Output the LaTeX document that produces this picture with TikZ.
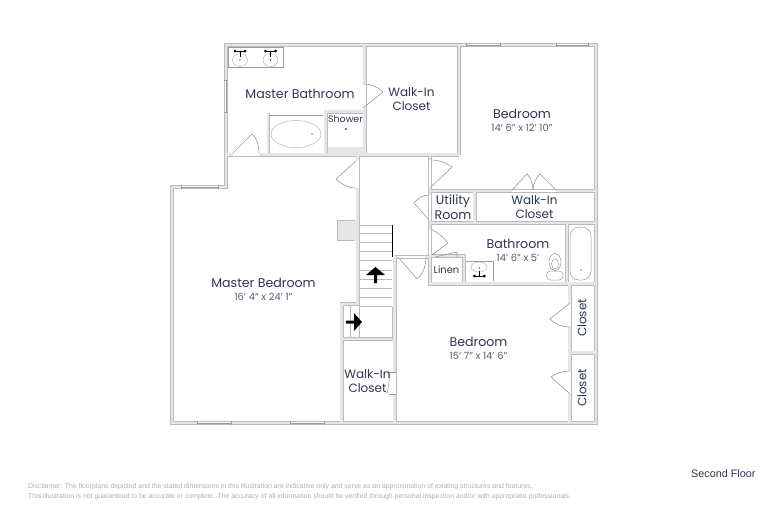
\documentclass[tikz,border=0pt]{standalone}
\usepackage{fontspec}
\setmainfont{Poppins}
\newfontfamily\discfont{Liberation Sans}
\definecolor{ink}{HTML}{2C3650}
\definecolor{inklight}{HTML}{555D73}
\definecolor{wallout}{HTML}{BBBBBD}
\definecolor{wallin}{HTML}{E6E6E8}
\definecolor{fix}{HTML}{9A9A9A}
\definecolor{fixlight}{HTML}{B6B8B4}
\definecolor{disc}{HTML}{B0B0B4}
\newcommand\wallset[1]{%
 \draw[#1] (226,45)--(596,45)--(596,423)--(172,423)--(172,187)--(226,187)--cycle;
 \draw[#1] (226,154.5)--(459,154.5);
 \draw[#1] (364.5,45)--(364.5,154.5);
 \draw[#1] (459,45)--(459,155);
 \draw[#1] (430,155)--(430,283.5)--(596,283.5);
 \draw[#1] (430,191)--(596,191);
 \draw[#1] (430,223)--(596,223);
 \draw[#1] (474.5,191)--(474.5,223);
 \draw[#1] (567,223)--(567,283.5);
 \draw[#1] (430,283.5)--(464,283.5)--(464,256)--(430,256);
 \draw[#1] (357.5,155)--(357.5,304)--(341.5,304)--(341.5,423);
 \draw[#1] (341.5,339)--(394.5,339);
 \draw[#1] (394.5,257)--(394.5,423);
 \draw[#1] (394.5,257)--(430,257);
 \draw[#1] (569.5,283.5)--(569.5,423);
 \draw[#1] (569.5,352.5)--(596,352.5);
 \draw[#1] (325.5,153)--(325.5,111.5)--(364.5,111.5);
 \draw[#1,line width=\pgflinewidth-1pt] (268,153)--(268,113);
}
\tikzset{
 wallo/.style={draw=wallout,line width=4pt,line join=miter},
 walli/.style={draw=wallin,line width=2.5pt,line join=miter},
 opening/.style={draw=white,line width=2.6pt},
 glass/.style={draw=fix,line width=.5pt},
 doorleaf/.style={draw=fix,line width=.6pt,line join=round},
 fixture/.style={draw=fix,line width=.5pt},
 softfix/.style={draw=fixlight,line width=.5pt},
 tread/.style={draw=wallout,line width=.8pt},
 room/.style={text=ink,font=\fontsize{12.6}{14}\selectfont,align=center,inner sep=0pt},
 wroom/.style={text=ink,font=\fontsize{12}{14.4}\selectfont,align=center,inner sep=0pt},
 dim/.style={text=inklight,font=\fontsize{9.9}{11}\selectfont,align=center,inner sep=0pt},
 discl/.style={text=disc,font=\discfont\fontsize{6.9}{8}\selectfont,anchor=west,inner sep=0pt},
}
\newcommand\hwin[3]{% x1 x2 y
 \draw[opening] (#1,#3)--(#2,#3);
 \draw[glass] (#1,#3)--(#2,#3);
 \draw[glass,line width=.8pt] (#1,#3-2)--(#1,#3+2) (#2,#3-2)--(#2,#3+2);}
\newcommand\vwin[3]{% x y1 y2
 \draw[opening] (#1,#2)--(#1,#3);
 \draw[glass] (#1,#2)--(#1,#3);
 \draw[glass,line width=.8pt] (#1-2,#2)--(#1+2,#2) (#1-2,#3)--(#1+2,#3);}
% x, dot row y, stem end y
\newcommand\faucet[3]{%
 \fill[black] (#1-5,#2) circle (1.5) (#1+5,#2) circle (1.5);
 \draw[black,line width=.6pt] (#1-5,#2)--(#1+5,#2);
 \draw[black,line width=.8pt] (#1,#2)--(#1,#3);}
\begin{document}
\begin{tikzpicture}[x=1pt,y=-1pt]
\useasboundingbox (0,0) rectangle (768,512);
\fill[white] (0,0) rectangle (768,512);
\fill[wallin] (327,147) rectangle (364,153);
\fill[wallin] (337.5,220.5) rectangle (357,240);
\draw[wallout,line width=.5pt] (355,220.5)--(337.5,220.5)--(337.5,240)--(355,240);
\wallset{wallo}
\wallset{walli}
% door openings
\draw[opening] (364.5,84)--(364.5,108);
\draw[opening] (357.5,161)--(357.5,188);
\draw[opening] (430,160)--(430,187);
\draw[opening] (430,195)--(430,220);
\draw[opening] (430,230)--(430,255);
\draw[opening] (233,154.5)--(259,154.5);
\draw[opening] (512,191)--(556,191);
\draw[opening] (398,257)--(426,257);
\draw[opening] (569.5,303)--(569.5,327);
\draw[opening] (569.5,371)--(569.5,394);
\draw[opening] (394.5,372)--(394.5,394);
% windows
\hwin{466}{500}{45}
\hwin{556}{588}{45}
\hwin{197}{231}{423}
\hwin{290}{324}{423}
\hwin{181}{218}{187}
\vwin{226}{80}{112}
% doors
\draw[doorleaf] (233,153)--(252,134) .. controls (257,138) and (259,146) .. (259,153);
\draw[doorleaf] (363,108)--(383,92) .. controls (378,87) and (371,84) .. (363,84);
\draw[doorleaf] (356,161)--(336,179) .. controls (341,184) and (348,188) .. (356,188);
\draw[doorleaf] (431,160) .. controls (439,160) and (447,163) .. (452,167)--(431,187);
\draw[doorleaf] (512,190)--(527,174) .. controls (531,178) and (533,184) .. (533,190);
\draw[doorleaf] (556,190)--(540,174) .. controls (536,178) and (533,184) .. (533,190);
\draw[doorleaf] (429,195) .. controls (423,195) and (418,198) .. (414,203)--(429,220);
\draw[doorleaf] (432,230) .. controls (438,232) and (444,238) .. (448,243)--(432,255);
\draw[doorleaf] (435,257)--(457,252)--(457,257);
\draw[doorleaf] (398,257)--(417,279) .. controls (423,274) and (426,266) .. (426,257);
\draw[doorleaf] (570,303)--(550,319) .. controls (555,324) and (562,327) .. (570,327);
\draw[doorleaf] (570,371) .. controls (563,371) and (556,373) .. (551,377)--(570,394);
\draw[doorleaf] (396,372)--(389,372) (389,394)--(396,394);
\draw[doorleaf] (389,372) .. controls (390,380) and (388,388) .. (387,394);
% stairs
\foreach \yy in {225,233.5,242.7,251.7,260.7,270,279.3,288.3,297.3,306.7}
  \draw[tread] (359.5,\yy)--(392,\yy);
\draw[black,line width=.9pt] (392.3,224.5)--(392.3,257);
\draw[tread] (350,306)--(350,338);
\draw[tread] (359,306)--(359,338);
\draw[tread] (392,306.7)--(392,339);
\fill[black] (375.5,267)--(385,275)--(377,275)--(377,283)--(374,283)--(374,275)--(366,275)--cycle;
\fill[black] (362,322)--(354,313)--(354,320.5)--(346,320.5)--(346,323.5)--(354,323.5)--(354,331)--cycle;
% master bathroom fixtures
\draw[fixture] (228,47) rectangle (283,67);
\draw[softfix] (240,60) ellipse (7.5 and 6.5);
\draw[softfix] (270.5,60) ellipse (7.5 and 6.5);
\faucet{240}{51}{57}
\faucet{270.5}{51}{57}
\fill[black] (240,60) circle (.6) (270.5,60) circle (.6);
\draw[fixture] (269,115.5)--(323,115.5);
\draw[softfix] (296,134) ellipse (25 and 13.5);
\fill[black] (312,134) circle (.6);
\fill[black] (346,129) circle (.8);
% bathroom fixtures
\draw[fixture] (465.5,261)--(493,261)--(493,280.5);
\draw[softfix] (479,267) ellipse (8 and 5);
\faucet{479.3}{276}{271}
\fill[black] (479.3,268) circle (.6);
\draw[fixture,rounded corners=9pt] (570,227) rectangle (591,280);
\fill[black] (581,270) circle (.6);
\draw[fixture] (555,262) ellipse (6 and 8.5);
\draw[fixture] (555,264) ellipse (3.5 and 5);
\draw[fixture,fill=white,rounded corners=4pt] (546.5,271) rectangle (563,280);
% labels
\node[room] (mbath) at (300,94) {Master Bathroom};
\node[wroom] (wic1) at (411.5,99) {Walk-In\\Closet};
\node[room,font=\fontsize{9.4}{10}\selectfont] (shower) at (345.5,119) {Shower};
\node[room] (bed1) at (522,114) {Bedroom};
\node[dim] (bed1d) at (522,128) {14' 6" x 12' 10"};
\node[wroom] (wic2) at (534.5,207) {Walk-In\\Closet};
\node[room,font=\fontsize{12.6}{15}\selectfont] (util) at (453,207) {Utility\\Room};
\node[room] (bath) at (518,244) {Bathroom};
\node[dim] (bathd) at (518,258) {14' 6" x 5'};
\node[room,font=\fontsize{9.9}{11}\selectfont] (linen) at (446.5,270) {Linen};
\node[room] (mbed) at (263.5,283) {Master Bedroom};
\node[dim] (mbedd) at (263.5,297) {16' 4" x 24' 1"};
\node[room] (bed2) at (478.5,342) {Bedroom};
\node[dim] (bed2d) at (478.5,356) {15' 7" x 14' 6"};
\node[wroom] (wic3) at (367.5,381) {Walk-In\\Closet};
\node[wroom,rotate=90] (cl1) at (582,318) {Closet};
\node[wroom,rotate=90] (cl2) at (582,388) {Closet};
\node[discl,text=ink,font=\discfont\fontsize{10.8}{12}\selectfont] (floor) at (691,474) {Second Floor};
\node[discl] (d1) at (28,487) {Disclaimer: The floorplans depicted and the stated dimensions in this illustration are indicative only and serve as an approximation of existing structures and features.};
\node[discl] (d2) at (28,497) {This illustration is not guaranteed to be accurate or complete. The accuracy of all information should be verified through personal inspection and/or with appropriate professionals.};
\end{tikzpicture}
\end{document}
